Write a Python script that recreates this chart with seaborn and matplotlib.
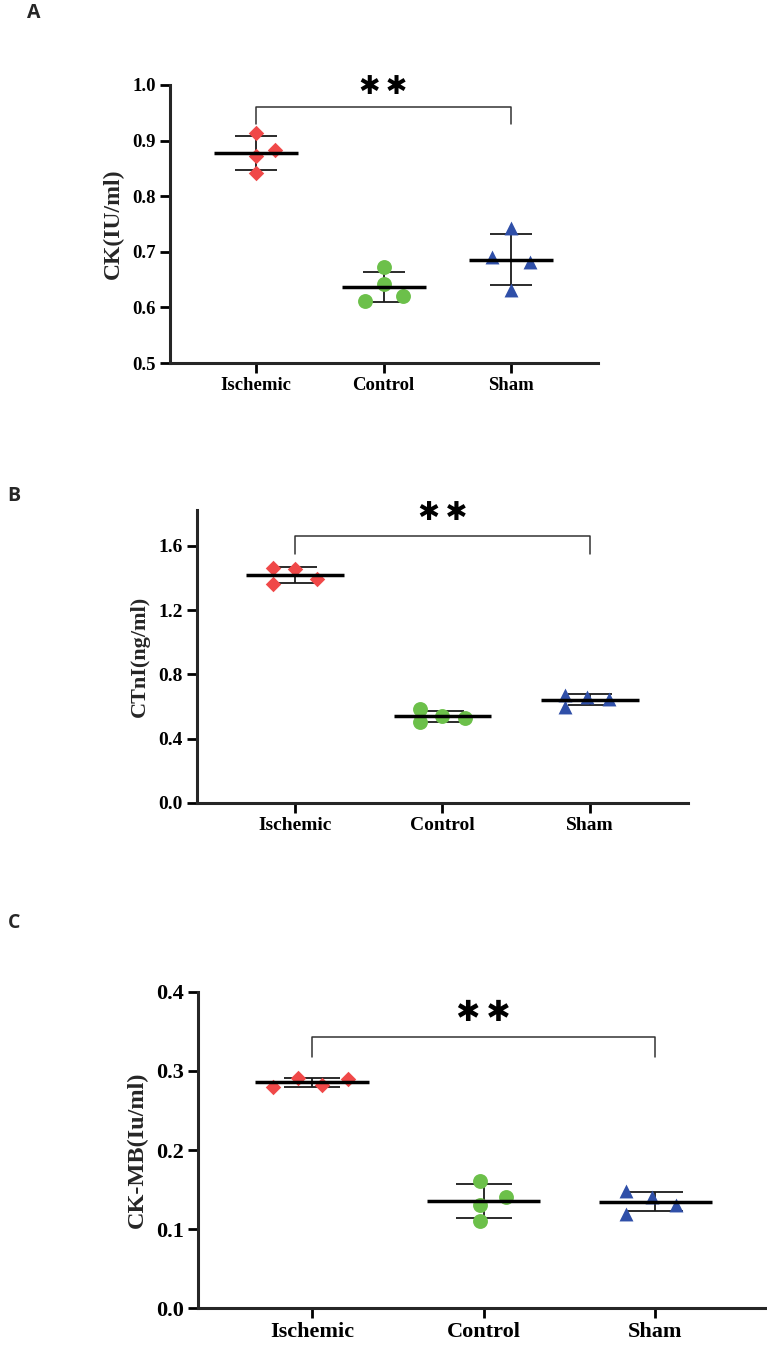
import matplotlib
matplotlib.use("Agg")
import matplotlib.pyplot as plt
import numpy as np
import pandas as pd
import seaborn as sns

# values (4 animals per group)
groups = ["Ischemic", "Control", "Sham"]

ck_ischemic = [0.914, 0.872, 0.883, 0.842]
ck_control = [0.672, 0.642, 0.612, 0.620]
ck_sham = [0.742, 0.690, 0.681, 0.631]
ck_jitter = [[0, 0, 0.15, 0], [0, 0, -0.15, 0.15], [0, -0.15, 0.15, 0]]

ctni_ischemic = [1.461, 1.455, 1.362, 1.393]
ctni_control = [0.583, 0.543, 0.502, 0.531]
ctni_sham = [0.672, 0.658, 0.599, 0.646]
ctni_jitter = [[-0.15, 0, -0.15, 0.15], [-0.15, 0, -0.15, 0.15], [-0.17, -0.02, -0.17, 0.13]]

ckmb_ischemic = [0.280, 0.2915, 0.282, 0.2895]
ckmb_control = [0.161, 0.141, 0.130, 0.1105]
ckmb_sham = [0.148, 0.141, 0.130, 0.1196]
ckmb_jitter = [[-0.23, -0.08, 0.06, 0.21], [-0.02, 0.13, -0.02, -0.02], [-0.17, -0.02, 0.12, -0.17]]

palette = {"Ischemic": "#f04848", "Control": "#6cc04a", "Sham": "#2f4fa8"}
markers = {"Ischemic": "D", "Control": "o", "Sham": "^"}
sizes = {"Ischemic": 62, "Control": 115, "Sham": 100}

sns.set_theme(style="ticks")
plt.rcParams["font.family"] = ["Liberation Serif", "DejaVu Sans"]
plt.rcParams["font.weight"] = "bold"


def make_frame(ischemic, control, sham, jitter):
    rows = []
    for i, (g, vals) in enumerate(zip(groups, [ischemic, control, sham])):
        for v, j in zip(vals, jitter[i]):
            rows.append({"group": g, "value": v, "xpos": i + j})
    return pd.DataFrame(rows)


def panel(ax, df, ylabel, ylim, yticks, fs, lfs, cap, bracket, letter, letter_xy):
    for g in groups:
        sub = df[df.group == g]
        sns.scatterplot(data=sub, x="xpos", y="value", marker=markers[g],
                        color=palette[g], s=sizes[g], linewidth=0, ax=ax,
                        legend=False, zorder=3)
    # mean line + SD bars
    for i, g in enumerate(groups):
        vals = df[df.group == g].value.values
        m, sd = vals.mean(), vals.std(ddof=1)
        ax.hlines(m, i - 0.33, i + 0.33, color="black", lw=2.5, zorder=4)
        ax.errorbar(i, m, yerr=sd, fmt="none", ecolor="#1a1a1a", elinewidth=1.3,
                    capsize=cap, capthick=1.3, zorder=2)

    y_br, y_drop, y_star = bracket
    ax.plot([0, 0, 2, 2], [y_drop, y_br, y_br, y_drop], color="#333333", lw=1.1)
    ax.text(1, y_star, "\u2731\u2009\u2731", ha="center", va="center",
            fontsize=fs + 5, family="DejaVu Sans", fontweight="bold", color="black")

    ax.set_ylim(*ylim)
    ax.set_yticks(yticks)
    ax.set_yticklabels([f"{t:.1f}" for t in yticks], fontsize=fs, fontweight="bold")
    ax.set_xticks(range(3))
    ax.set_xticklabels(groups, fontsize=fs, fontweight="bold")
    ax.set_xlabel("")
    ax.set_ylabel(ylabel, fontsize=lfs, fontweight="bold", labelpad=6)
    sns.despine(ax=ax)
    for s in ["left", "bottom"]:
        ax.spines[s].set_linewidth(2.2)
    ax.tick_params(direction="out", length=7, width=2, pad=3, colors="black")
    fig.text(letter_xy[0], letter_xy[1], letter, fontsize=14, fontweight="bold",
             family="Open Sans", ha="left", va="center")


fig = plt.figure(figsize=(7.67, 13.47), dpi=100)

ax1 = fig.add_axes([0.2216, 0.7305, 0.558, 0.2064])
ax1.set_xlim(-0.675, 2.68)
panel(ax1, make_frame(ck_ischemic, ck_control, ck_sham, ck_jitter), "CK(IU/ml)",
      (0.5, 1.0), [0.5, 0.6, 0.7, 0.8, 0.9, 1.0], 13.5, 17, 15,
      (0.960, 0.930, 0.996), "A", (0.035, 0.990))

ax2 = fig.add_axes([0.2568, 0.4039, 0.6402, 0.2175])
ax2.set_xlim(-0.665, 2.665)
panel(ax2, make_frame(ctni_ischemic, ctni_control, ctni_sham, ctni_jitter), "CTnI(ng/ml)",
      (0, 1.824), [0.0, 0.4, 0.8, 1.2, 1.6], 14, 16, 16,
      (1.662, 1.55, 1.805), "B", (0.010, 0.632))

ax3 = fig.add_axes([0.2581, 0.02895, 0.7392, 0.2346])
ax3.set_xlim(-0.665, 2.64)
panel(ax3, make_frame(ckmb_ischemic, ckmb_control, ckmb_sham, ckmb_jitter), "CK-MB(Iu/ml)",
      (0, 0.4), [0.0, 0.1, 0.2, 0.3, 0.4], 16, 17.5, 20,
      (0.343, 0.318, 0.373), "C", (0.010, 0.315))

fig.savefig("out.png", dpi=100)
